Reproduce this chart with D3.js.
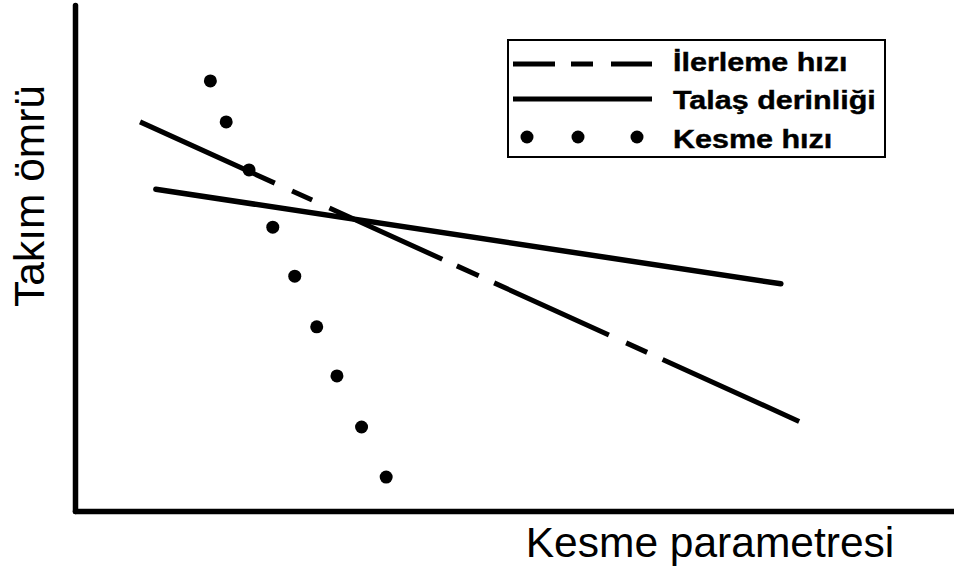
<!DOCTYPE html>
<html>
<head>
<meta charset="utf-8">
<script src="https://cdn.jsdelivr.net/npm/d3@7/dist/d3.min.js"></script>
<style>
  html, body { margin: 0; padding: 0; background: #fff; }
  svg { display: block; }
</style>
</head>
<body>
<svg id="chart" width="954" height="570"></svg>
<script>
// Relative scale (0–100) for both the cutting parameter and tool life.
const feedX = [7.4, 82.5];
const feedY = [76.9, 17.6];
const depthX = [9.2, 80.3];
const depthY = [63.6, 44.9];
const speedX = [15.4, 17.2, 19.8, 22.5, 25.0, 27.5, 29.8, 32.6, 35.4];
const speedY = [85.0, 76.9, 67.4, 56.1, 46.4, 36.4, 26.7, 16.6, 6.7];
const seriesNames = ["İlerleme hızı", "Talaş derinliği", "Kesme hızı"];
const xTitle = "Kesme parametresi";
const yTitle = "Takım ömrü";

const svg = d3.select("#chart");
const plot = { left: 75, right: 954, top: 5, bottom: 511 };

const x = d3.scaleLinear().domain([0, 100]).range([plot.left, plot.right]);
const y = d3.scaleLinear().domain([0, 100]).range([plot.bottom, plot.top]);

// Axes: bare heavy lines, no ticks
const yAxis = svg.append("g")
  .attr("transform", `translate(${plot.left},0)`)
  .call(d3.axisLeft(y).ticks(0).tickSizeOuter(0));
const xAxis = svg.append("g")
  .attr("transform", `translate(0,${plot.bottom})`)
  .call(d3.axisBottom(x).ticks(0).tickSizeOuter(0));
[yAxis, xAxis].forEach(g => g.select(".domain")
  .attr("stroke", "#000").attr("stroke-width", 5.5)
  .attr("stroke-linecap", "round"));

const line = d3.line().x(d => x(d[0])).y(d => y(d[1]));

// Feed rate: long–short dashed line
svg.append("path")
  .datum(d3.zip(feedX, feedY))
  .attr("d", line)
  .attr("fill", "none")
  .attr("stroke", "#000")
  .attr("stroke-width", 5)
  .attr("stroke-dasharray", "148,19,22,19,124,16,24,17,126,19,23,17,150");

// Depth of cut: solid line
svg.append("path")
  .datum(d3.zip(depthX, depthY))
  .attr("d", line)
  .attr("fill", "none")
  .attr("stroke", "#000")
  .attr("stroke-width", 5.5)
  .attr("stroke-linecap", "round");

// Cutting speed: dots
svg.append("g").selectAll("circle")
  .data(d3.zip(speedX, speedY))
  .join("circle")
  .attr("cx", d => x(d[0]))
  .attr("cy", d => y(d[1]))
  .attr("r", 6.5)
  .attr("fill", "#000");

// Axis titles
svg.append("text")
  .attr("x", 710).attr("y", 557)
  .attr("text-anchor", "middle")
  .attr("font-family", "Liberation Sans, Arial, sans-serif")
  .attr("font-size", 42.5)
  .attr("fill", "#000")
  .text(xTitle);

svg.append("text")
  .attr("transform", "translate(44,196) rotate(-90)")
  .attr("text-anchor", "middle")
  .attr("font-family", "Liberation Sans, Arial, sans-serif")
  .attr("font-size", 42.5)
  .attr("fill", "#000")
  .text(yTitle);

// Legend
const legend = svg.append("g");
legend.append("rect")
  .attr("x", 508).attr("y", 40)
  .attr("width", 377).attr("height", 117)
  .attr("fill", "#fff")
  .attr("stroke", "#000")
  .attr("stroke-width", 2);

const rowY = [64, 99, 137];
const baseY = [71, 109, 148];
const symX0 = 513, symX1 = 652;

legend.append("line")
  .attr("x1", symX0).attr("x2", symX1)
  .attr("y1", rowY[0]).attr("y2", rowY[0])
  .attr("stroke", "#000").attr("stroke-width", 5)
  .attr("stroke-dasharray", "42,16,22,18,41");

legend.append("line")
  .attr("x1", symX0).attr("x2", symX1)
  .attr("y1", rowY[1]).attr("y2", rowY[1])
  .attr("stroke", "#000").attr("stroke-width", 5);

legend.append("g").selectAll("circle")
  .data([527, 578, 637])
  .join("circle")
  .attr("cx", d => d).attr("cy", rowY[2])
  .attr("r", 6.5).attr("fill", "#000");

legend.append("g").selectAll("text")
  .data(seriesNames)
  .join("text")
  .attr("transform", (d, i) => `translate(673,${baseY[i]}) scale(1.22,1)`)
  .attr("font-family", "Liberation Sans, Arial, sans-serif")
  .attr("font-weight", "bold")
  .attr("font-size", 25)
  .attr("fill", "#000")
  .attr("stroke", "#000")
  .attr("stroke-width", 0.4)
  .text(d => d);
</script>
</body>
</html>
